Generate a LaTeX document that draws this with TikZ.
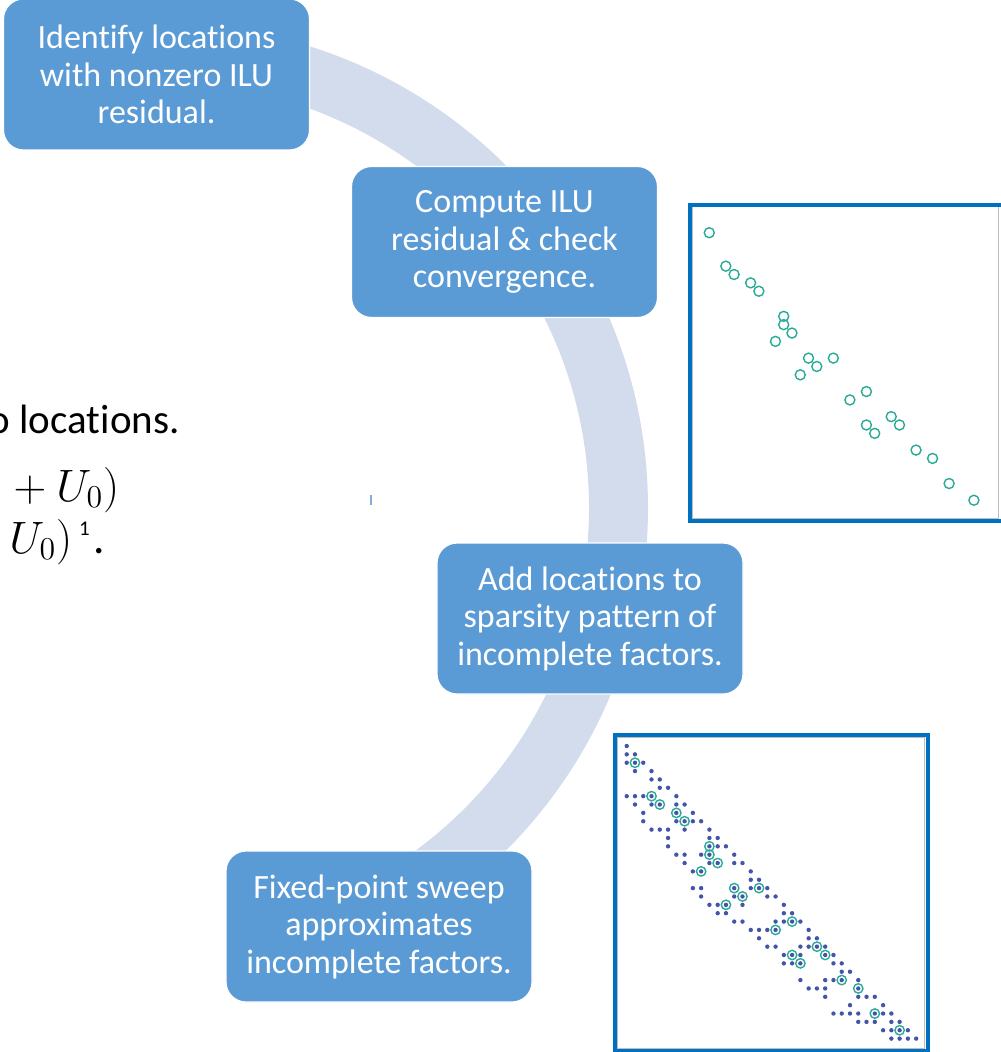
\documentclass[tikz,border=0pt]{standalone}
\usepackage{fix-cm}
\usepackage{fontspec}
\setmainfont{Carlito}[Ligatures=NoCommon]
\usepackage{xcolor}
\usetikzlibrary{calc}

\definecolor{boxblue}{RGB}{91,155,213}
\definecolor{ringblue}{RGB}{210,220,237}
\definecolor{frameblue}{RGB}{0,112,192}
\definecolor{framegray}{RGB}{190,190,190}
\definecolor{nzteal}{RGB}{40,170,150}
\definecolor{dotblue}{RGB}{68,84,168}

\tikzset{
  stepbox/.style={rectangle, rounded corners=10pt, fill=boxblue, draw=white,
    line width=0.6pt, text=white, minimum width=153pt, minimum height=75.5pt,
    align=center, font=\fontsize{17pt}{18.75pt}\selectfont},
  nzcirc/.style={draw=nzteal, line width=0.7pt},
  nzdot/.style={fill=dotblue},
  spyframe/.style={draw=frameblue, line width=2pt},
  innerframe/.style={draw=framegray, line width=0.5pt},
  eqtext/.style={inner sep=0pt, font=\fontsize{22.7pt}{27pt}\selectfont},
}

\begin{document}
\begin{tikzpicture}[x=0.5pt, y=-0.5pt]
  \def\dx{8.27}
  \def\dy{8.36}
  \useasboundingbox (0,0) rectangle (1000,1052);
  \coordinate (C) at (164,508);

  % ring behind the steps
  \begin{scope}
    \clip (227,0) rectangle (1000,1052);
    \draw[ringblue, line width=29.5pt] (C) circle [radius=227.25pt];
  \end{scope}

  \node[stepbox] (identify) at (156.5,74.5) {Identify locations\\with nonzero ILU\\residual.};
  \node[stepbox] (compute) at (504.5,242) {Compute ILU\\residual \& check\\convergence.};
  \node[stepbox] (addloc) at (590,618.5) {Add locations to\\sparsity pattern of\\incomplete factors.};
  \node[stepbox] (sweep) at (379,926.5) {Fixed-point sweep\\approximates\\incomplete factors.};

  % text cut at the left
  \node[anchor=base east, inner sep=0pt, font=\fontsize{20.5pt}{24pt}\selectfont] (loctext) at (180,434) {o locations.};
  \node[eqtext, anchor=base east] (eqone) at (119.7,501) {${}+U_0)$};
  \node[eqtext, anchor=base west] (eqtwo) at (9,553)
    {$U_0)$\hspace{3.5pt}\raisebox{9pt}{\fontsize{10.5pt}{12pt}\selectfont 1}\hspace{2pt}.};
  \draw[boxblue!80, line width=0.6pt] (371,495) -- (371,505);

  % residual pattern
  \begin{scope}[shift={(701,216)}]
    \draw[innerframe] (-8.5,-9) rectangle (297,302.5);
    \draw[spyframe] (-11,-11) rectangle (301.5,305);
    \foreach \col/\row in {1/2,3/6,4/7,6/8,7/9,10/12,10/13,11/14,9/15,13/17,14/18,16/17,12/19,
        20/21,18/22,20/25,21/26,23/24,24/25,26/28,28/29,30/32,33/34}
      \draw[nzcirc] (\col*\dx,\row*\dy) circle [radius=2.5pt];
  \end{scope}

  % factor pattern
  \begin{scope}[shift={(626.7,746)}]
    \draw[innerframe] (-9,-8.5) rectangle (297.5,302);
    \draw[spyframe] (-11.5,-11) rectangle (301.5,305);
    \foreach \row/\cols in {0/{0},1/{0,1},2/{0,1,2},3/{1,3},4/{3,4},5/{4,5},6/{0,1,2,3,6},
        7/{1,3,4,6,7},8/{2,6,8},9/{2,6,7,8,9},10/{3,4,5,7,10},11/{5,10,11},12/{5,10,11,12},
        13/{6,7,9,10,13},14/{7,10,11,13,14},15/{8,9,15},16/{15,16},17/{8,9,13,15,16,17},
        18/{9,13,14,17,18},19/{10,11,12,14,19},20/{11,12,19,20},21/{13,14,18,19,20,21},
        22/{15,16,17,18,22},23/{16,22,23},24/{17,18,21,22,23,24},25/{19,20,21,24,25},
        26/{19,20,21,25,26},27/{26,27},28/{21,24,25,26,28},29/{22,23,24,28},30/{24,28,29,30},
        31/{27,31},32/{25,26,27,28,30,31,32},33/{28,29,30,32,33},34/{31,32,33,34},35/{32,33,34,35}}
      \foreach \col in \cols
        \fill[nzdot] (\col*\dx,\row*\dy) circle [radius=1.1pt];
    \foreach \col/\row in {1/2,3/6,4/7,6/8,7/9,10/12,10/13,11/14,9/15,13/17,14/18,16/17,12/19,
        20/21,18/22,20/25,21/26,23/24,24/25,26/28,28/29,30/32,33/34}
      \draw[nzcirc] (\col*\dx,\row*\dy) circle [radius=2.35pt];
  \end{scope}
\end{tikzpicture}
\end{document}
